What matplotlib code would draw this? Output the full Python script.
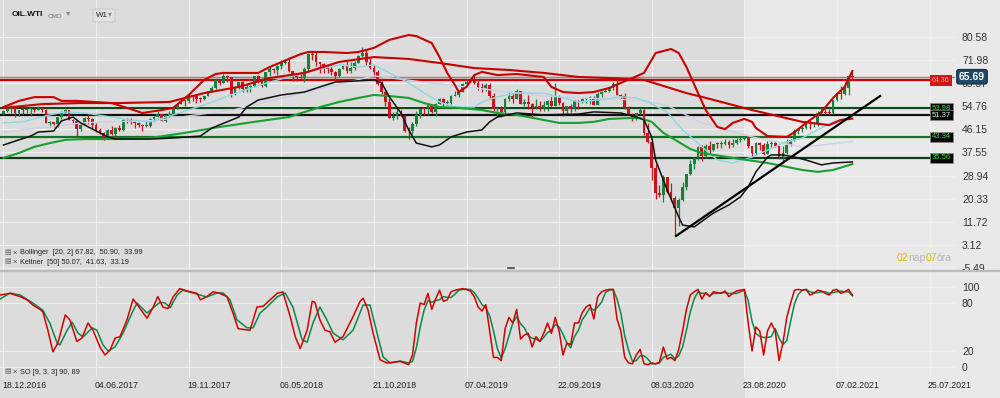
import matplotlib
matplotlib.use("Agg")
import matplotlib.pyplot as plt
from matplotlib.patches import Rectangle, FancyBboxPatch
from matplotlib.lines import Line2D
from matplotlib.transforms import blended_transform_factory

plt.rcParams['font.family'] = ['Liberation Sans', 'DejaVu Sans']

# weekly candles OIL.WTI, week 0 = 18.12.2016
opens = [51.90, 53.02, 53.72, 53.99, 52.37, 53.22, 53.17, 53.83, 53.86, 53.40,
         53.99, 53.33, 48.49, 48.78, 47.97, 50.60, 52.24, 53.18, 49.62, 49.33,
         46.22, 47.84, 50.33, 49.80, 47.66, 45.83, 44.74, 43.01, 46.04, 44.23,
         46.54, 45.77, 49.71, 49.58, 48.82, 48.51, 47.87, 47.29, 47.48, 49.89,
         50.66, 51.67, 49.29, 51.45, 51.47, 53.90, 55.64, 56.74, 56.55, 58.95,
         58.36, 57.36, 57.30, 58.47, 60.42, 61.44, 64.30, 63.37, 66.14, 65.45,
         59.20, 61.68, 63.55, 61.25, 62.04, 62.34, 65.88, 64.94, 62.06, 67.39,
         68.38, 68.10, 69.72, 70.70, 71.28, 67.88, 65.81, 65.74, 65.06, 68.58,
         74.15, 73.80, 71.01, 70.46, 68.69, 68.49, 67.63, 65.91, 68.72, 69.80,
         67.75, 68.99, 70.78, 73.25, 74.34, 71.34, 69.12, 67.59, 63.14, 60.19,
         56.46, 50.42, 50.93, 52.61, 51.20, 45.59, 45.33, 47.96, 51.59, 53.80,
         53.69, 55.26, 52.72, 55.59, 57.26, 55.80, 56.07, 58.52, 59.04, 60.14,
         63.08, 63.89, 64.00, 63.30, 61.94, 61.66, 62.76, 58.63, 53.50, 53.99,
         52.51, 57.43, 58.47, 57.51, 60.21, 55.63, 56.20, 55.66, 54.50, 54.87,
         54.17, 55.10, 56.52, 54.85, 58.09, 55.91, 52.81, 54.70, 53.78, 56.66,
         56.20, 57.24, 57.72, 57.77, 55.17, 59.20, 60.07, 60.44, 61.72, 63.05,
         59.04, 58.54, 54.19, 51.56, 50.32, 52.05, 53.38, 44.76, 41.28, 31.73,
         22.43, 21.51, 28.34, 22.76, 20.50, 17.00, 19.80, 24.74, 29.43, 33.25,
         35.49, 39.55, 36.26, 39.75, 38.49, 40.65, 40.55, 40.59, 41.29, 40.27,
         41.22, 42.01, 42.34, 42.97, 39.77, 37.33, 41.11, 40.25, 37.05, 40.60,
         40.88, 39.85, 35.79, 37.14, 40.13, 42.15, 45.53, 46.26, 46.57, 49.10,
         48.23, 48.52, 52.24, 52.36, 52.27, 52.20, 56.85, 59.47, 59.24, 61.50,
         66.09]
highs = [53.30, 54.35, 55.24, 54.00, 53.45, 54.05, 54.22, 54.00, 54.07, 54.94,
         54.56, 53.58, 49.29, 48.95, 50.85, 52.94, 53.76, 53.19, 50.07, 49.54,
         48.20, 50.72, 52.00, 50.24, 48.59, 46.50, 44.96, 46.30, 47.32, 46.88,
         47.66, 49.81, 50.43, 50.22, 48.96, 48.93, 48.00, 49.42, 50.47, 51.00,
         52.86, 51.68, 51.59, 52.84, 53.96, 55.72, 57.69, 57.05, 59.05, 59.05,
         58.91, 58.20, 58.62, 60.51, 62.21, 64.77, 64.89, 66.66, 66.50, 65.50,
         62.36, 63.73, 64.24, 63.03, 62.43, 66.00, 66.36, 65.13, 67.45, 69.56,
         68.85, 69.97, 71.89, 72.30, 72.90, 68.00, 66.36, 67.37, 69.35, 74.46,
         75.27, 74.74, 71.02, 70.80, 70.30, 69.99, 67.86, 68.81, 70.43, 71.40,
         71.33, 71.48, 73.64, 76.90, 75.91, 72.49, 69.89, 68.05, 63.93, 60.68,
         57.67, 52.50, 54.55, 53.27, 51.53, 47.10, 48.67, 52.90, 54.02, 54.13,
         55.75, 55.48, 55.80, 57.81, 57.88, 57.18, 58.95, 60.39, 60.73, 63.22,
         64.79, 64.31, 66.60, 64.32, 63.20, 63.49, 63.43, 59.74, 54.05, 54.84,
         57.65, 59.93, 60.00, 60.94, 60.26, 57.40, 58.82, 55.80, 57.47, 56.55,
         56.73, 57.10, 58.76, 63.38, 59.03, 56.33, 54.94, 55.36, 56.92, 56.99,
         57.88, 57.87, 58.64, 58.70, 59.85, 60.41, 61.19, 61.94, 63.84, 65.65,
         59.32, 59.53, 54.62, 52.13, 52.31, 54.13, 53.62, 48.66, 41.28, 33.33,
         25.24, 29.13, 28.55, 26.00, 21.50, 20.50, 26.70, 29.60, 34.70, 35.80,
         39.80, 40.40, 40.50, 41.60, 40.80, 41.40, 41.80, 42.50, 42.10, 42.40,
         43.00, 43.40, 43.80, 43.50, 39.90, 41.50, 41.40, 40.90, 41.70, 41.60,
         41.80, 40.00, 39.80, 42.50, 42.60, 46.30, 46.70, 47.70, 49.30, 49.40,
         48.90, 52.80, 53.90, 53.90, 53.50, 57.00, 60.00, 62.30, 63.80, 66.40,
         67.98]
lows = [51.60, 52.70, 52.11, 50.71, 50.91, 52.00, 52.13, 51.22, 52.62, 53.37,
        52.61, 48.35, 47.09, 47.01, 47.07, 50.00, 52.20, 49.52, 48.18, 43.76,
        45.67, 47.73, 48.18, 46.75, 45.20, 44.22, 42.05, 42.87, 43.84, 43.66,
        45.40, 45.40, 48.52, 48.09, 46.46, 47.07, 45.58, 46.90, 47.00, 49.40,
        50.60, 49.10, 48.95, 50.71, 51.31, 53.82, 55.62, 54.82, 56.06, 56.75,
        55.82, 56.14, 56.95, 58.35, 60.10, 61.26, 62.75, 63.23, 63.67, 58.07,
        58.78, 61.00, 60.15, 60.04, 60.18, 61.98, 63.52, 61.84, 61.94, 66.13,
        67.24, 66.51, 68.49, 70.28, 67.42, 64.22, 64.24, 64.52, 63.59, 67.62,
        72.04, 69.68, 67.03, 67.03, 66.92, 66.45, 64.43, 65.56, 68.44, 66.90,
        67.13, 68.03, 70.63, 73.17, 70.11, 68.47, 65.74, 62.59, 59.26, 54.75,
        50.15, 49.41, 50.08, 50.90, 45.20, 42.36, 44.35, 47.30, 50.40, 51.33,
        51.57, 52.06, 51.23, 55.45, 54.52, 55.07, 55.63, 58.44, 58.08, 60.02,
        62.92, 63.18, 62.80, 60.66, 60.04, 60.55, 57.22, 53.05, 50.60, 50.72,
        51.37, 56.76, 55.77, 57.25, 55.40, 54.68, 53.59, 50.52, 53.80, 53.02,
        52.89, 52.96, 54.55, 54.80, 55.17, 50.99, 51.92, 52.41, 52.89, 53.79,
        55.85, 55.97, 55.49, 55.09, 55.00, 58.18, 59.86, 60.15, 60.75, 58.87,
        57.36, 53.85, 51.28, 49.31, 49.45, 51.84, 43.89, 41.05, 27.34, 20.06,
        20.85, 19.27, 22.57, 19.50, 6.50, 10.10, 19.60, 23.40, 29.10, 31.50,
        34.80, 34.40, 35.60, 37.10, 37.90, 39.30, 39.10, 40.30, 39.20, 39.60,
        40.80, 41.50, 42.00, 39.00, 36.10, 36.50, 38.60, 36.60, 37.00, 39.40,
        39.40, 34.90, 33.60, 37.00, 39.90, 41.90, 44.30, 45.20, 46.10, 46.20,
        47.00, 47.20, 51.80, 51.50, 51.50, 51.80, 56.50, 57.30, 58.80, 59.00,
        64.30]
closes = [53.02, 53.72, 53.99, 52.37, 53.22, 53.17, 53.83, 53.86, 53.40, 53.99,
          53.33, 48.49, 48.78, 47.97, 50.60, 52.24, 53.18, 49.62, 49.33, 46.22,
          47.84, 50.33, 49.80, 47.66, 45.83, 44.74, 43.01, 46.04, 44.23, 46.54,
          45.77, 49.71, 49.58, 48.82, 48.51, 47.87, 47.29, 47.48, 49.89, 50.66,
          51.67, 49.29, 51.45, 51.47, 53.90, 55.64, 56.74, 56.55, 58.95, 58.36,
          57.36, 57.30, 58.47, 60.42, 61.44, 64.30, 63.37, 66.14, 65.45, 59.20,
          61.68, 63.55, 61.25, 62.04, 62.34, 65.88, 64.94, 62.06, 67.39, 68.38,
          68.10, 69.72, 70.70, 71.28, 67.88, 65.81, 65.74, 65.06, 68.58, 74.15,
          73.80, 71.01, 70.46, 68.69, 68.49, 67.63, 65.91, 68.72, 69.80, 67.75,
          68.99, 70.78, 73.25, 74.34, 71.34, 69.12, 67.59, 63.14, 60.19, 56.46,
          50.42, 50.93, 52.61, 51.20, 45.59, 45.33, 47.96, 51.59, 53.80, 53.69,
          55.26, 52.72, 55.59, 57.26, 55.80, 56.07, 58.52, 59.04, 60.14, 63.08,
          63.89, 64.00, 63.30, 61.94, 61.66, 62.76, 58.63, 53.50, 53.99, 52.51,
          57.43, 58.47, 57.51, 60.21, 55.63, 56.20, 55.66, 54.50, 54.87, 54.17,
          55.10, 56.52, 54.85, 58.09, 55.91, 52.81, 54.70, 53.78, 56.66, 56.20,
          57.24, 57.72, 57.77, 55.17, 59.20, 60.07, 60.44, 61.72, 63.05, 59.04,
          58.54, 54.19, 51.56, 50.32, 52.05, 53.38, 44.76, 41.28, 31.73, 22.43,
          21.51, 28.34, 22.76, 20.50, 17.00, 19.80, 24.74, 29.43, 33.25, 35.49,
          39.55, 36.26, 39.75, 38.49, 40.65, 40.55, 40.59, 41.29, 40.27, 41.22,
          42.01, 42.34, 42.97, 39.77, 37.33, 41.11, 40.25, 37.05, 40.60, 40.88,
          39.85, 35.79, 37.14, 40.13, 42.15, 45.53, 46.26, 46.57, 49.10, 48.23,
          48.52, 52.24, 52.36, 52.27, 52.20, 56.85, 59.47, 59.24, 61.50, 66.09,
          65.69]

# Bollinger [20, 2]
bb_up_w = [0, 4, 8, 13, 15, 19, 28, 32, 36, 41, 44, 48, 52, 55, 57, 61, 66, 69, 74, 77,
           79, 83, 89, 92, 96, 100, 105, 107, 111, 113, 115, 117, 118, 120, 122, 124, 128, 133, 140, 142,
           145, 149, 153, 157, 160, 163, 166, 169, 173, 175, 177, 180, 182, 185, 187, 189, 192, 194, 195, 198,
           203, 205, 208, 212, 215, 218, 220]
bb_up = [54.4, 56.7, 58.1, 58.1, 56.7, 56.7, 55.9, 54.1, 52.2, 53.3, 54.1, 58.9, 64.5, 66.7, 67.1, 67.1, 67.1, 69.3, 72.3, 74.1,
         74.9, 74.9, 74.5, 74.9, 76.4, 79.4, 81.2, 80.8, 78.2, 73.0, 67.1, 62.6, 60.0, 61.9, 66.3, 67.5, 66.3, 66.7, 65.6, 61.9,
         60.0, 59.6, 60.0, 61.5, 63.4, 65.2, 67.1, 74.5, 76.0, 74.5, 69.3, 59.6, 53.3, 47.0, 46.2, 48.5, 50.0, 48.9, 46.6, 43.6,
         43.3, 45.1, 48.5, 52.6, 57.8, 61.9, 67.8]
bb_mid_w = [0, 5, 12, 16, 21, 28, 33, 38, 44, 52, 61, 69, 78, 87, 92, 96, 100, 105, 109, 113,
            117, 122, 124, 128, 133, 140, 149, 154, 160, 164, 167, 172, 176, 181, 185, 189, 194, 198, 202, 207,
            211, 215, 220]
bb_mid = [48.5, 48.9, 51.5, 52.6, 52.2, 50.7, 49.6, 48.9, 51.5, 55.2, 60.0, 63.7, 67.1, 70.1, 69.3, 70.1, 67.1, 63.4, 59.6, 56.3,
          54.4, 54.4, 56.3, 58.2, 59.6, 59.6, 56.3, 57.0, 58.2, 57.8, 56.3, 52.6, 45.9, 39.6, 34.7, 33.6, 35.8, 38.4, 41.0, 42.9,
          45.9, 48.9, 50.9]
bb_lo_w = [0, 4, 7, 9, 13, 15, 18, 20, 22, 25, 27, 29, 38, 44, 51, 54, 61, 63, 66, 72,
           78, 82, 86, 96, 98, 100, 103, 105, 107, 111, 113, 116, 120, 124, 126, 128, 133, 140, 149, 153,
           160, 164, 166, 168, 169, 172, 175, 176, 179, 184, 188, 191, 193, 195, 198, 199, 202, 205, 208, 212,
           215, 220]
bb_lo = [40.3, 42.2, 43.6, 45.1, 45.5, 49.2, 50.7, 48.5, 47.0, 44.8, 43.3, 42.5, 42.5, 42.9, 43.6, 46.6, 50.7, 54.4, 57.0, 58.9,
         60.0, 61.9, 63.7, 64.5, 63.4, 58.2, 52.2, 45.9, 41.0, 39.6, 40.3, 43.3, 45.1, 45.9, 48.9, 50.7, 52.2, 51.5, 51.8, 52.6,
         52.2, 50.7, 49.6, 43.3, 34.7, 23.6, 13.5, 10.5, 9.8, 15.0, 18.0, 21.0, 24.7, 30.3, 35.8, 36.6, 36.6, 35.8, 34.7, 32.9,
         33.6, 34.0]

# Keltner [50]
kc_up_w = [0, 10, 20, 30, 43, 52, 61, 69, 78, 87, 96, 105, 113, 122, 131, 140, 149, 157, 166, 177,
           181, 194, 207, 214, 217, 220]
kc_up = [54.1, 55.5, 55.9, 55.9, 56.3, 59.6, 61.9, 65.2, 67.1, 71.2, 73.0, 72.3, 70.8, 68.9, 68.2, 67.1, 65.6, 65.2, 64.5, 59.6,
         58.2, 53.3, 48.9, 47.7, 49.6, 50.1]
kc_mid_w = [0, 20, 40, 60, 80, 96, 110, 125, 140, 155, 165, 172, 181, 194, 207, 220]
kc_mid = [45.0, 48.5, 49.5, 53.5, 60.5, 66.0, 63.5, 61.0, 58.5, 57.5, 57.0, 55.0, 48.5, 43.3, 39.5, 41.6]
kc_lo_w = [0, 4, 8, 12, 16, 21, 29, 38, 47, 56, 65, 74, 82, 87, 92, 96, 100, 105, 109, 113,
           118, 124, 128, 133, 140, 144, 149, 153, 157, 162, 165, 168, 171, 175, 178, 181, 189, 198, 207, 211,
           215, 220]
kc_lo = [35.5, 37.3, 39.6, 41.0, 42.2, 42.5, 42.5, 42.9, 44.8, 47.0, 48.9, 50.7, 54.4, 56.3, 57.8, 58.9, 58.5, 57.8, 55.9, 54.4,
         54.1, 53.3, 52.2, 51.5, 49.6, 48.5, 48.5, 48.9, 50.0, 50.3, 50.3, 48.9, 44.8, 41.4, 38.8, 37.3, 35.5, 33.6, 31.0, 30.3,
         31.0, 33.2]

# Stochastic oscillator [9, 3, 3]
so_k_w = [-0.9, 1.7, 4.3, 6.1, 7.6, 9.5, 10.2, 11.5, 12.8, 14.1, 16.0, 17.2, 19.0, 20.3, 21.9, 23.2, 25.0, 26.3, 27.6, 28.9,
          30.2, 32.0, 33.6, 35.4, 37.2, 38.8, 40.0, 41.3, 42.6, 44.0, 45.7, 47.6, 50.2, 51.0, 52.7, 54.3, 56.1, 57.9, 59.5, 60.8,
          62.1, 63.9, 65.7, 67.3, 69.1, 70.9, 72.4, 74.3, 75.6, 76.9, 78.7, 80.0, 80.7, 82.0, 83.3, 84.6, 85.9, 88.0, 90.6, 92.4,
          93.2, 94.5, 95.8, 97.6, 99.4, 102.8] + list(range(105, 221))
so_k = [90, 92, 88, 84, 77.5, 72, 69, 46, 19, 30, 65, 59, 32, 36, 55, 46, 25, 15, 21, 36,
        38, 59, 85, 73, 61, 75, 88, 75, 73, 88, 98, 95, 92, 84, 88, 94, 92, 88, 67, 48,
        47, 46, 75, 76, 84, 92, 94, 63, 38, 23, 46, 82, 81, 59, 46, 44, 31, 38, 63, 82,
        86, 71, 42, 9, 5, 7,
        3, 15, 55, 80, 78, 92, 72, 85, 96, 82, 84, 94, 96, 97, 98, 97, 95, 88, 75, 70,
        78, 45, 12, 12, 8, 48, 62, 55, 72, 35, 40, 42, 25, 38, 32, 42, 55, 42, 62, 45,
        15, 30, 28, 55, 55, 68, 75, 78, 60, 88, 94, 96, 97, 97, 60, 45, 12, 5, 4, 15,
        22, 4, 3, 5, 4, 6, 25, 10, 12, 8, 22, 45, 72, 90, 94, 97, 85, 93, 88, 94,
        93, 92, 95, 88, 92, 95, 96, 97, 55, 20, 50, 45, 15, 45, 55, 45, 8, 30, 62, 80,
        96, 97, 96, 97, 90, 92, 96, 95, 92, 90, 96, 97, 92, 94, 97, 90]
so_d_w = [-0.9, 1.7, 4.3, 7.6, 10.2, 12.0, 13.9, 14.6, 16.5, 17.8, 19.3, 20.6, 23.0, 24.2, 25.8, 27.1, 28.9, 31.0, 33.3, 34.6,
          37.2, 38.8, 40.6, 41.9, 43.2, 45.0, 46.5, 49.1, 52.7, 55.3, 56.9, 58.7, 60.5, 63.1, 64.7, 66.5, 68.3, 70.9, 73.0, 75.0,
          77.4, 78.7, 80.2, 82.0, 83.8, 85.4, 88.0, 90.6, 93.2, 95.0, 96.8, 98.4, 100.2, 102.8] + list(range(105, 221))
so_d = [85, 92.5, 90, 80, 71, 55, 30, 27.5, 46, 56, 42.5, 37.5, 49, 46, 27.5, 20, 25, 42.5, 67.5, 80,
        67.5, 74, 81, 80, 74, 90, 96, 92.5, 87.5, 92.5, 92.5, 84, 59, 49, 49, 67.5, 75, 87.5, 92.5, 75,
        34, 31, 55, 75, 59, 42.5, 34, 46, 77.5, 77.5, 42.5, 12.5, 5, 7.5,
        5, 7, 24, 50, 71, 83, 81, 83, 84, 88, 87, 87, 91, 96, 97, 97, 97, 93, 86, 78,
        74, 64, 45, 23, 11, 23, 39, 55, 63, 54, 49, 39, 36, 35, 32, 37, 43, 46, 53, 50,
        41, 30, 24, 38, 46, 59, 66, 74, 71, 75, 81, 93, 96, 97, 85, 67, 39, 21, 7, 8,
        14, 14, 10, 4, 4, 5, 12, 14, 16, 10, 14, 25, 46, 69, 85, 94, 92, 92, 89, 92,
        92, 93, 93, 92, 92, 92, 94, 96, 83, 57, 42, 38, 37, 37, 38, 48, 36, 28, 33, 57,
        79, 91, 96, 97, 94, 93, 93, 94, 94, 92, 93, 94, 95, 94, 94, 89]

# horizontal levels and trend line
levels = [53.98, 51.37, 43.34, 35.56]
level_colors = ['#0f4a18', '#101010', '#17702a', '#0f3a16']
level_text = ['#36e036', '#c8f0c8', '#36e036', '#36e036']
red_level = 64.36
last_price = 65.69
trend_w = [174.3, 227.2]
trend_p = [6.44, 58.51]

price_ticks = [80.58, 71.98, 63.37, 54.76, 46.15, 37.55, 28.94, 20.33, 11.72, 3.12, -5.49]
osc_ticks = [100, 80, 20, 0]
date_labels = ['18.12.2016', '04.06.2017', '19.11.2017', '06.05.2018', '21.10.2018', '07.04.2019',
               '22.09.2019', '08.03.2020', '23.08.2020', '07.02.2021', '25.07.2021']
date_weeks = [0, 24, 48, 72, 96, 120, 144, 168, 192, 216, 240]

W, H = 1000, 398
fig = plt.figure(figsize=(W / 100, H / 100), dpi=100, facecolor='#e9e9e9')
fig.add_artist(Rectangle((0, 0), 745 / W, 1, transform=fig.transFigure,
                         facecolor='#dcdcdc', edgecolor='none', zorder=-10))

ax = fig.add_axes([0, 128 / H, 955 / W, 270 / H])
ax2 = fig.add_axes([0, 20 / H, 955 / W, 106 / H])
for a in (ax, ax2):
    a.patch.set_alpha(0)
    for s in a.spines.values():
        s.set_visible(False)
    a.set_xlim(-0.907, 246.6)
    a.set_xticks([])
    a.yaxis.tick_right()
    a.tick_params(axis='y', length=0, pad=5, labelsize=7.5, labelcolor='#333333')
    for w in date_weeks:
        a.axvline(w, color='#efefef', lw=0.8, zorder=0)

ax.set_ylim(-6.21, 94.23)
ax.set_yticks(price_ticks)
ax.set_yticklabels(['%.2f' % t for t in price_ticks])
for t in price_ticks:
    ax.axhline(t, color='#efefef', lw=0.8, zorder=0)

# candles
weeks = list(range(len(closes)))
cols = ['#17803f' if c >= o else '#c8141e' for o, c in zip(opens, closes)]
ax.vlines(weeks, lows, highs, colors=cols, lw=0.9, zorder=3)
bodies = [max(abs(c - o), 0.35) for o, c in zip(opens, closes)]
ax.bar(weeks, bodies, bottom=[min(o, c) for o, c in zip(opens, closes)],
       width=0.72, color=cols, linewidth=0, zorder=3)

# level lines
ax.axhline(last_price, color='#8a8a8a', lw=1.0, zorder=2)
ax.axhline(red_level, xmax=930 / 955, color='#cc0000', lw=1.6, zorder=2)
for lv, lc in zip(levels, level_colors):
    ax.axhline(lv, xmax=930 / 955, color=lc, lw=1.6, zorder=2)

# indicators
ax.plot(kc_mid_w, kc_mid, color='#cfcfe6', lw=1.0, zorder=4)
ax.plot(bb_mid_w, bb_mid, color='#8ad8e2', lw=1.0, zorder=4)
ax.plot(kc_up_w, kc_up, color='#c80000', lw=1.5, zorder=4)
ax.plot(kc_lo_w, kc_lo, color='#18a030', lw=1.5, zorder=4)
ax.plot(bb_up_w, bb_up, color='#c80000', lw=1.5, zorder=4)
ax.plot(bb_lo_w, bb_lo, color='#101010', lw=1.1, zorder=4)
ax.plot(trend_w, trend_p, color='#000000', lw=1.6, zorder=5)

# price boxes at the right edge
yt = ax.get_yaxis_transform()
ax.text(932 / 955, red_level, '%.2f' % red_level, transform=yt, fontsize=5, color='#f2a0a0',
        va='center', ha='left', clip_on=False, zorder=6,
        bbox=dict(boxstyle='square,pad=0.3', facecolor='#d41616', edgecolor='none'))
for lv, tc in zip(levels, level_text):
    ax.text(932 / 955, lv, '%.2f' % lv, transform=yt, fontsize=5.5, color=tc,
            va='center', ha='left', clip_on=False, zorder=6,
            bbox=dict(boxstyle='square,pad=0.2', facecolor='#050505', edgecolor='#8a8a8a', lw=0.5))
ax.text(959 / 955, last_price, '%.2f' % last_price, transform=yt, fontsize=7.5, fontweight='bold',
        color='white', va='center', ha='left', clip_on=False, zorder=7,
        bbox=dict(boxstyle='round,pad=0.22', facecolor='#1d4b6a', edgecolor='#0d2a3e', lw=0.8))

# oscillator panel
ax2.set_ylim(-13.75, 118.75)
ax2.set_yticks(osc_ticks)
ax2.set_yticklabels([str(t) for t in osc_ticks])
for t in osc_ticks:
    ax2.axhline(t, color='#efefef', lw=0.8, zorder=0)
ax2.plot(so_d_w, so_d, color='#0a8a4a', lw=1.1, zorder=3)
ax2.plot(so_k_w, so_k, color='#d40000', lw=1.1, zorder=4)

bt = blended_transform_factory(ax2.transData, ax2.transAxes)
for w, lab in zip(date_weeks, date_labels):
    ax2.text(w - 0.4, -0.075, lab, transform=bt, fontsize=6.3, color='#222222',
             va='center', ha='left', clip_on=False)

# separator between panels
fig.add_artist(Line2D([0, 1], [1 - 271 / H, 1 - 271 / H], color='#bcbcbc', lw=1.6))
fig.add_artist(Line2D([508 / W, 514 / W], [1 - 268 / H, 1 - 268 / H], color='#444444', lw=1.2))

# header
fig.text(12 / W, 1 - 15 / H, 'OIL.WTI', fontsize=6, fontweight='bold', color='#111111', va='center')
fig.text(48 / W, 1 - 16 / H, 'CMD', fontsize=4.6, color='#777777', va='center')
fig.text(66 / W, 1 - 14 / H, '▾', fontsize=6, color='#888888', va='center')
fig.add_artist(FancyBboxPatch((93 / W, 1 - 22 / H), 22 / W, 13 / H, transform=fig.transFigure,
                              boxstyle='round,pad=0,rounding_size=0.004',
                              facecolor='#e2e2e2', edgecolor='#c4c4c4', lw=0.6))
fig.text(96 / W, 1 - 15.5 / H, 'W1', fontsize=5.8, color='#222222', va='center')
fig.text(108 / W, 1 - 14.5 / H, '▾', fontsize=5.5, color='#888888', va='center')

# indicator legends
for yy, txt in [(253, 'Bollinger  [20, 2] 67.82,  50.90,  33.99'),
                (262, 'Keltner  [50] 50.07,  41.63,  33.19'),
                (372, 'SO [9, 3, 3] 90, 89')]:
    fig.text(4 / W, 1 - yy / H, '▤', fontsize=5, color='#666666', va='center')
    fig.text(12 / W, 1 - yy / H, '×', fontsize=5.5, color='#444444', va='center')
    fig.text(20 / W, 1 - yy / H, txt, fontsize=5.3, color='#222222', va='center')

# countdown
x0 = 897
for txt, col, dx in [('02', '#f2b400', 0), ('nap', '#b4b4b4', 11), ('07', '#f2b400', 29), ('óra', '#b4b4b4', 40)]:
    fig.text((x0 + dx) / W, 1 - 258 / H, txt, fontsize=7.5, color=col, va='center')

fig.savefig('out.png', dpi=100, facecolor=fig.get_facecolor())
